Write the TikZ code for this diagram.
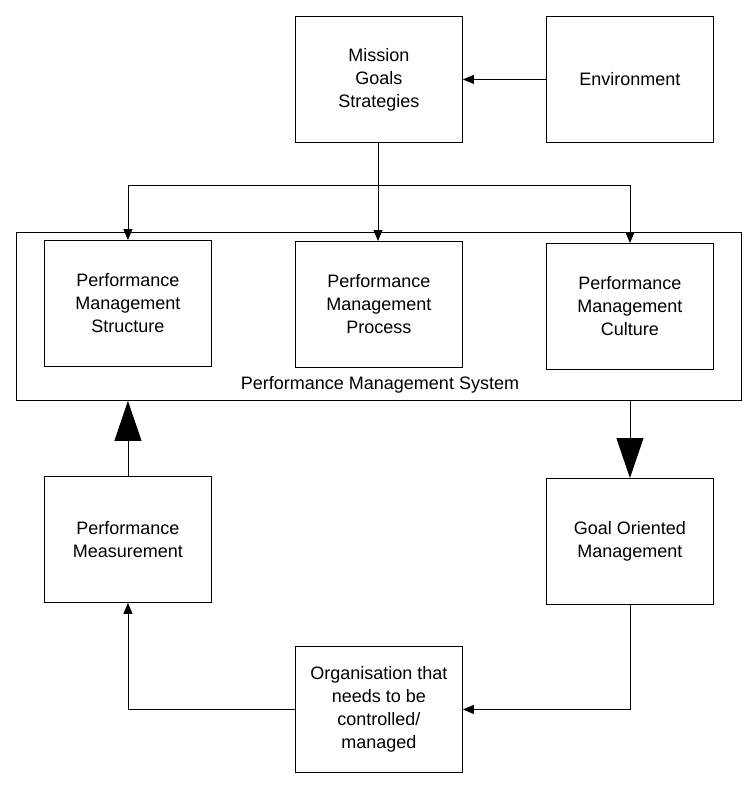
\documentclass[tikz,border=0pt]{standalone}
\usepackage{fontspec}
\setmainfont{Liberation Sans}
\usetikzlibrary{arrows.meta}
\begin{document}
\begin{tikzpicture}[x=1pt,y=-1pt,
  box/.style={draw,line width=0.9pt,minimum width=167pt,minimum height=126pt,align=center,font=\fontsize{18}{23}\selectfont,anchor=north west},
  conn/.style={line width=0.9pt,-{Triangle[length=11pt,width=9pt]}},
  big/.style={line width=0.9pt,-{Triangle[length=40pt,width=27pt]}}]
\useasboundingbox (0,0) rectangle (752,785);
\node[box] (mis) at (295,16) {Mission\\Goals\\Strategies};
\node[box] (env) at (546,16) {Environment};
\node[draw,line width=0.9pt,minimum width=725pt,minimum height=168pt,anchor=north west] (sys) at (16,232) {};
\node[box] (str) at (44,240) {Performance\\Management\\Structure};
\node[box] (pro) at (295,241) {Performance\\Management\\Process};
\node[box] (cul) at (546,243) {Performance\\Management\\Culture};
\node[font=\fontsize{18}{23}\selectfont] (lab) at (380,385) {Performance Management System};
\node[box] (mea) at (44,476) {Performance\\Measurement};
\node[box] (goa) at (546,478) {Goal Oriented\\Management};
\node[box] (org) at (295,646) {Organisation that\\needs to be\\controlled/\\managed};
\coordinate (j) at (378,185);
\draw[conn] (env.west) -- (mis.east |- env.west);
\draw[line width=0.9pt] (mis.south -| j) -- (j);
\draw[conn] (j) -- (pro.north -| j);
\draw[conn] (j) -| (str.north);
\draw[conn] (j) -| (cul.north);
\draw[big] (mea.north) -- (sys.south -| mea.north);
\draw[big] (sys.south -| goa.north) -- (goa.north);
\draw[conn] (goa.south) |- (org.east);
\draw[conn] (org.west) -| (mea.south);
\end{tikzpicture}
\end{document}
